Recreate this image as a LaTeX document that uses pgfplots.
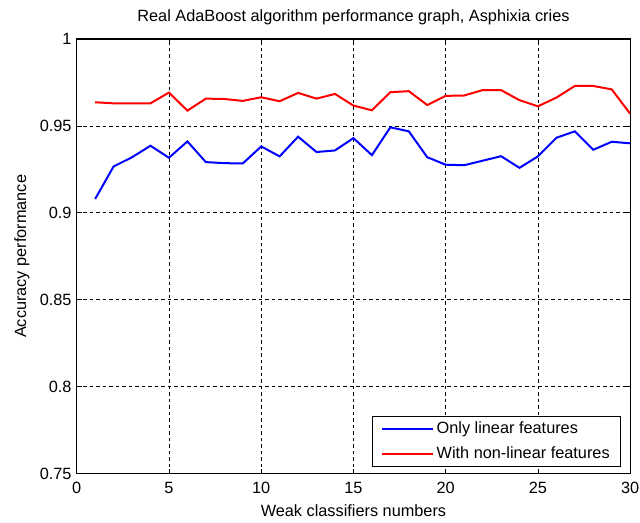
\documentclass[border=0pt]{standalone}
\usepackage{fontspec}
\setmainfont{Liberation Sans}
\usepackage{pgfplots}
\pgfplotsset{compat=1.18}
\pgfplotstableread{
x y
1 0.9080
2 0.9267
3 0.9320
4 0.9386
5 0.9317
6 0.9411
7 0.9292
8 0.9286
9 0.9284
10 0.9382
11 0.9325
12 0.9438
13 0.9350
14 0.9359
15 0.9430
16 0.9332
17 0.9492
18 0.9469
19 0.9320
20 0.9277
21 0.9274
22 0.9300
23 0.9326
24 0.9259
25 0.9325
26 0.9432
27 0.9469
28 0.9363
29 0.9409
30 0.9400
}\linear
\pgfplotstableread{
x y
1 0.9636
2 0.9630
3 0.9630
4 0.9630
5 0.9692
6 0.9588
7 0.9657
8 0.9655
9 0.9644
10 0.9665
11 0.9642
12 0.9690
13 0.9657
14 0.9684
15 0.9617
16 0.9590
17 0.9694
18 0.9700
19 0.9620
20 0.9673
21 0.9675
22 0.9706
23 0.9706
24 0.9648
25 0.9613
26 0.9663
27 0.9730
28 0.9730
29 0.9710
30 0.9570
}\nonlinear
\begin{document}
\fontsize{16.3bp}{19bp}\selectfont
\begin{tikzpicture}
\useasboundingbox (-76.7bp,-49.3bp) rectangle (563.3bp,473.7bp);
\begin{axis}[
  at={(0,0)}, anchor=south west,
  scale only axis, width=553.5bp, height=434.7bp,
  xmin=0, xmax=30, ymin=0.75, ymax=1,
  xtick={0,5,10,15,20,25,30},
  ytick={0.75,0.8,0.85,0.9,0.95,1},
  yticklabels={0.75,0.8,0.85,0.9,0.95,1},
  /pgf/number format/assume math mode=true,
  tick align=inside, major tick length=5bp,
  tick style={black, line width=0.8bp},
  axis line style={black, line width=1.1bp},
  grid=major,
  grid style={black, line width=0.8bp, dash pattern=on 3.5bp off 3bp},
  xticklabel style={inner sep=0pt, yshift=-8.5bp},
  yticklabel style={inner sep=0pt, xshift=-5bp},
  title={Real AdaBoost algorithm performance graph, Asphixia cries},
  title style={at={(axis description cs:0.5,1.0276)}, anchor=base, inner sep=0pt},
  xlabel={Weak classifiers numbers},
  xlabel style={at={(axis description cs:0.5,-0.0996)}, anchor=base, inner sep=0pt},
  ylabel={Accuracy performance},
  ylabel style={at={(axis description cs:-0.0988,0.5)}, anchor=center, inner sep=0pt},
  legend style={at={(1,0)}, anchor=south east, xshift=-9bp, yshift=6.5bp,
    draw=black, line width=1bp, inner xsep=8bp, inner ysep=5bp,
    row sep=9.5bp, font=\fontsize{16.3bp}{19bp}\selectfont,
    nodes={inner ysep=0pt, inner xsep=3bp, text height=12bp, text depth=3.5bp}},
  legend cell align=left,
  legend image code/.code={\draw[#1, line width=2bp] (0bp,0bp) -- (51bp,0bp);},
]
\addplot[blue, line width=2bp] table[x=x,y=y] {\linear};
\addlegendentry{Only linear features}
\addplot[red, line width=2bp] table[x=x,y=y] {\nonlinear};
\addlegendentry{With non-linear features}
\end{axis}
\end{tikzpicture}
\end{document}
